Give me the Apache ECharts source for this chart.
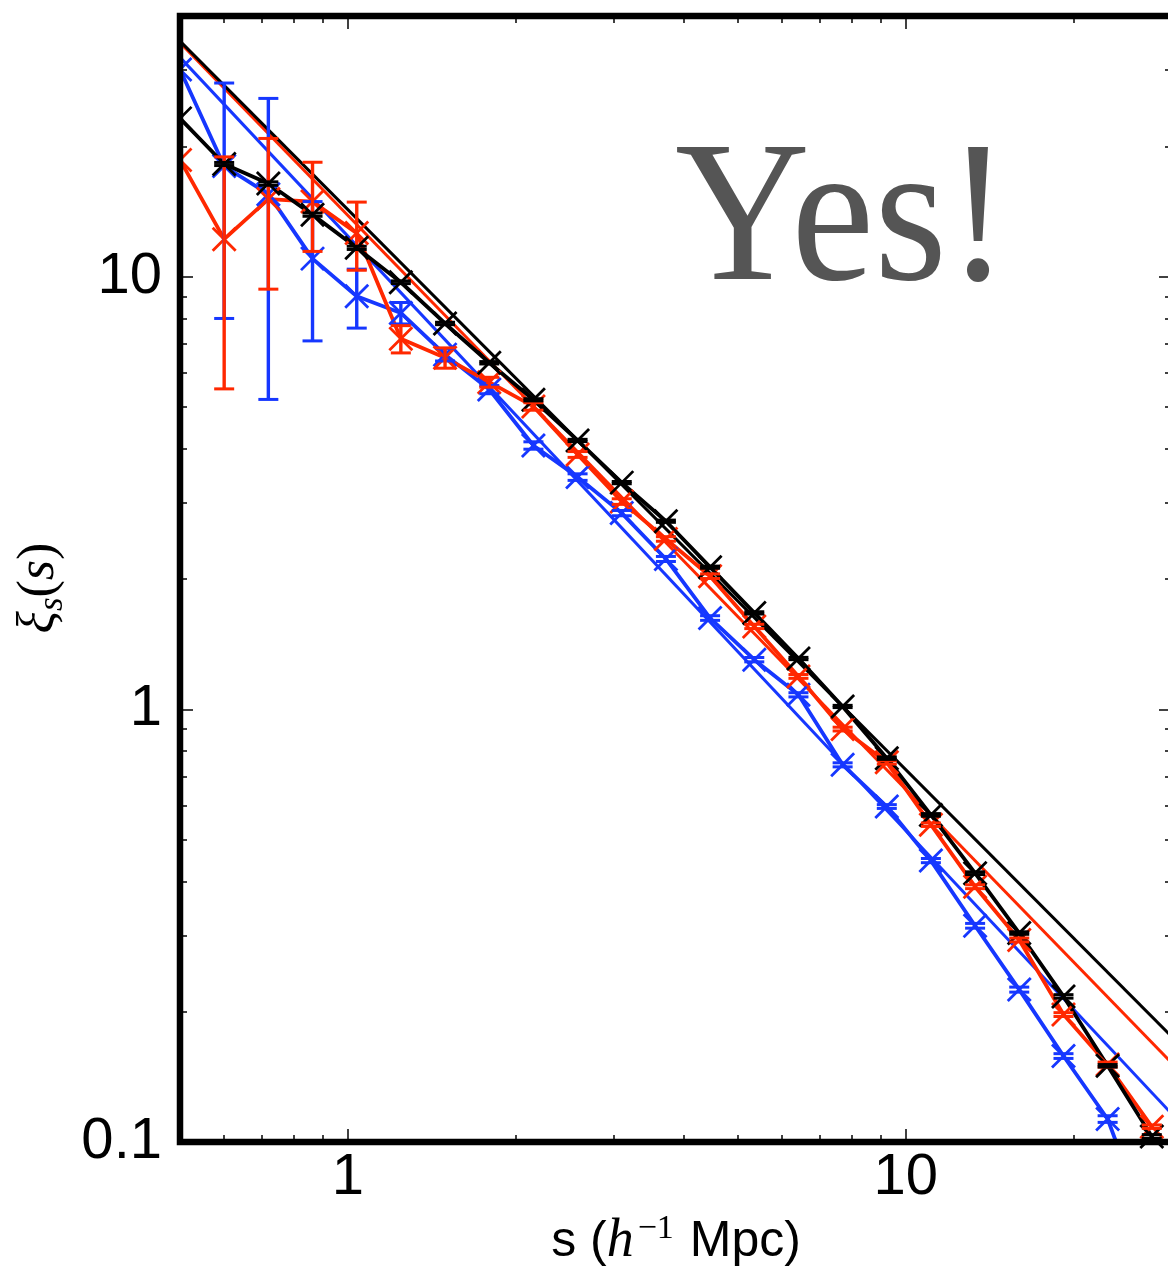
<!DOCTYPE html>
<html><head><meta charset="utf-8">
<script src="https://cdn.jsdelivr.net/npm/echarts@6/dist/echarts.min.js"></script>
<style>html,body{margin:0;padding:0;background:#fff}#c{width:1168px;height:1270px}</style>
</head><body><div id="c"></div>
<script>
// ---- data ----
const sBins = [0.5, 0.6, 0.72, 0.864, 1.037, 1.244, 1.493, 1.792, 2.15, 2.58, 3.096, 3.715, 4.458, 5.35, 6.42, 7.704, 9.245, 11.09, 13.31, 15.97, 19.17, 23.0, 27.6];
const xiBlack = [23.2, 18.2, 16.4, 13.9, 11.65, 9.70, 7.79, 6.32, 5.19, 4.18, 3.34, 2.72, 2.13, 1.67, 1.31, 1.015, 0.771, 0.570, 0.418, 0.304, 0.217, 0.150, 0.103];
const errBlack = [0, 0.15, 0.15, 0.12, 0.10, 0.07, 0.05, 0.04, 0.03, 0.025, 0.02, 0.016, 0.012, 0.01, 0.008, 0.006, 0.005, 0.004, 0.003, 0.002, 0.002, 0.001, 0.001];
const xiRed = [18.6, 12.2, 15.1, 14.9, 12.6, 7.18, 6.49, 5.70, 5.01, 3.88, 3.02, 2.475, 2.03, 1.554, 1.191, 0.900, 0.754, 0.541, 0.389, 0.293, 0.197, 0.151, 0.1085];
const errRed = [0, 6.7, 5.75, 3.47, 2.26, 0.52, 0.35, 0.15, 0.10, 0.06, 0.045, 0.03, 0.025, 0.018, 0.012, 0.009, 0.007, 0.005, 0.004, 0.003, 0.002, 0.002, 0.001];
const xiBlue = [30.1, 18.0, 15.5, 11.0, 9.00, 8.24, 6.60, 5.48, 4.07, 3.44, 2.84, 2.225, 1.625, 1.302, 1.080, 0.744, 0.596, 0.447, 0.316, 0.225, 0.158, 0.113, 0.06];
const errBlue = [0, 10.0, 10.3, 3.9, 1.4, 0.47, 0.22, 0.12, 0.08, 0.06, 0.04, 0.03, 0.02, 0.015, 0.012, 0.008, 0.006, 0.005, 0.004, 0.003, 0.002, 0.002, 0.001];
// power-law fit lines (end points)
const fitS = [0.5, 30];
const fitBlack = [35.0, 0.175];
const fitRed = [34.7, 0.152];
const fitBlue = [32.1, 0.116];
// axis ticks / labels
const xMajor = [1, 10];
const xMinor = [0.6, 0.7, 0.8, 0.9, 2, 3, 4, 5, 6, 7, 8, 9, 20, 30];
const yMajor = [0.1, 1, 10];
const yMinor = [0.2, 0.3, 0.4, 0.5, 0.6, 0.7, 0.8, 0.9, 2, 3, 4, 5, 6, 7, 8, 9, 20, 30];
const annotation = 'Yes!';

// ---- styling ----
const C_BLACK = '#000000', C_RED = '#ff2800', C_BLUE = '#1637ff';
const X_MIN = 0.5, X_MAX = 30, Y_MIN = 0.1, Y_MAX = 40;
const G = {left: 180, top: 16, width: 992, height: 1126};
const labelFont = 'Liberation Sans';
const fmt = v => (v >= 1 ? String(Math.round(v)) : String(v));

function axis(kind, pos, ticks, len, withLabels, extra) {
  const a = {
    type: 'log', logBase: 10, position: pos,
    min: kind === 'x' ? X_MIN : Y_MIN, max: kind === 'x' ? X_MAX : Y_MAX,
    axisLine: {show: false},
    splitLine: {show: false},
    minorTick: {show: false},
    axisTick: {show: true, inside: true, length: len, customValues: ticks,
      lineStyle: {color: '#111', width: 1.6}},
    axisLabel: withLabels ? {show: true, customValues: ticks, formatter: fmt,
      fontFamily: labelFont, fontSize: 58, color: '#000', margin: kind === 'x' ? 7 : 18}
      : {show: false}
  };
  return Object.assign(a, extra || {});
}

const xAxes = [
  axis('x', 'bottom', xMajor, 13, true, {
    name: '{t|s (}{h|h}{sup|−1}{t| Mpc)}', nameLocation: 'middle', nameGap: 68,
    nameTextStyle: {rich: {
      t: {fontFamily: labelFont, fontSize: 50, color: '#000', lineHeight: 60, verticalAlign: 'middle'},
      h: {fontFamily: 'Liberation Serif', fontStyle: 'italic', fontSize: 54, color: '#000', lineHeight: 60, verticalAlign: 'middle'},
      sup: {fontFamily: 'Liberation Serif', fontSize: 34, color: '#000', lineHeight: 34, verticalAlign: 'top', padding: [0, 2, 0, 4]}
    }}
  }),
  axis('x', 'bottom', xMinor, 7, false),
  axis('x', 'top', xMajor, 13, false),
  axis('x', 'top', xMinor, 7, false)
];
const yAxes = [
  axis('y', 'left', yMajor, 13, true, {
    name: '{xi|ξ}{sub|s}{p|(}{it|s}{p|)}', nameLocation: 'middle', nameRotate: 90, nameGap: 110,
    nameTextStyle: {padding: [0, 18, 0, 0], rich: {
      xi: {fontFamily: 'Liberation Serif', fontStyle: 'italic', fontSize: 52, color: '#000', lineHeight: 62, verticalAlign: 'middle'},
      sub: {fontFamily: 'Liberation Serif', fontStyle: 'italic', fontSize: 35, color: '#000', lineHeight: 42, verticalAlign: 'bottom'},
      p: {fontFamily: 'Liberation Serif', fontSize: 52, color: '#000', lineHeight: 62, verticalAlign: 'middle'},
      it: {fontFamily: 'Liberation Serif', fontStyle: 'italic', fontSize: 52, color: '#000', lineHeight: 62, verticalAlign: 'middle'}
    }}
  }),
  axis('y', 'left', yMinor, 7, false),
  axis('y', 'right', yMajor, 13, false),
  axis('y', 'right', yMinor, 7, false)
];

const X_SYM = 'path://M0,0L20,20M20,0L0,20';
const X_HALF = 'path://M0,10L0,10M10,10L20,0M10,10L20,20';

function pairs(xs, ys) { return xs.map((x, i) => [x, ys[i]]); }

function fitSeries(ys, color) {
  return {type: 'line', data: pairs(fitS, ys), showSymbol: false, symbol: 'none',
    lineStyle: {color: color, width: 3}, clip: true, z: 2, silent: true};
}
function dataSeries(ys, color) {
  return {type: 'line', clip: true, z: 3,
    data: ys.map((y, i) => i === 0 ? {value: [sBins[i], y], symbol: X_HALF} : [sBins[i], y]),
    symbol: X_SYM, symbolSize: 23, showSymbol: true, showAllSymbol: true,
    itemStyle: {color: color, borderColor: color, borderWidth: 2.8},
    lineStyle: {color: color, width: 3.8}};
}
function errSeries(ys, errs, color) {
  return {type: 'custom', clip: true, z: 4, silent: true,
    data: ys.map((y, i) => [sBins[i], y, y - errs[i], y + errs[i], errs[i]]),
    encode: {x: 0, y: 1},
    renderItem: function (params, api) {
      if (!(api.value(4) > 0)) return null;
      const x = api.value(0);
      const pHi = api.coord([x, api.value(3)]);
      const pLo = api.coord([x, api.value(2)]);
      const hw = 10;
      return {type: 'group', children: [
        {type: 'line', shape: {x1: pHi[0], y1: pHi[1], x2: pLo[0], y2: pLo[1]}, style: {stroke: color, lineWidth: 3.4}},
        {type: 'line', shape: {x1: pHi[0] - hw, y1: pHi[1], x2: pHi[0] + hw, y2: pHi[1]}, style: {stroke: color, lineWidth: 3}},
        {type: 'line', shape: {x1: pLo[0] - hw, y1: pLo[1], x2: pLo[0] + hw, y2: pLo[1]}, style: {stroke: color, lineWidth: 3}}
      ]};
    }};
}

const chart = echarts.init(document.getElementById('c'), null, {renderer: 'canvas'});
chart.setOption({
  animation: false,
  backgroundColor: '#fff',
  grid: Object.assign({containLabel: false, outerBoundsMode: 'none', show: false}, G),
  xAxis: xAxes,
  yAxis: yAxes,
  series: [
    fitSeries(fitBlue, C_BLUE),
    fitSeries(fitRed, C_RED),
    fitSeries(fitBlack, C_BLACK),
    dataSeries(xiBlue, C_BLUE),
    errSeries(xiBlue, errBlue, C_BLUE),
    dataSeries(xiRed, C_RED),
    errSeries(xiRed, errRed, C_RED),
    dataSeries(xiBlack, C_BLACK),
    errSeries(xiBlack, errBlack, C_BLACK)
  ],
  graphic: [
    {type: 'rect', z: 100, silent: true,
      shape: {x: G.left, y: G.top, width: G.width, height: G.height},
      style: {fill: null, stroke: '#000', lineWidth: 6.5}},
    {type: 'text', z: 50, silent: true, x: 675, y: 226, scaleX: 0.93,
      style: {text: annotation, font: '201px "Liberation Serif"', fill: '#555555',
        textAlign: 'left', align: 'left', textVerticalAlign: 'middle', verticalAlign: 'middle'}}
  ]
});
</script></body></html>
